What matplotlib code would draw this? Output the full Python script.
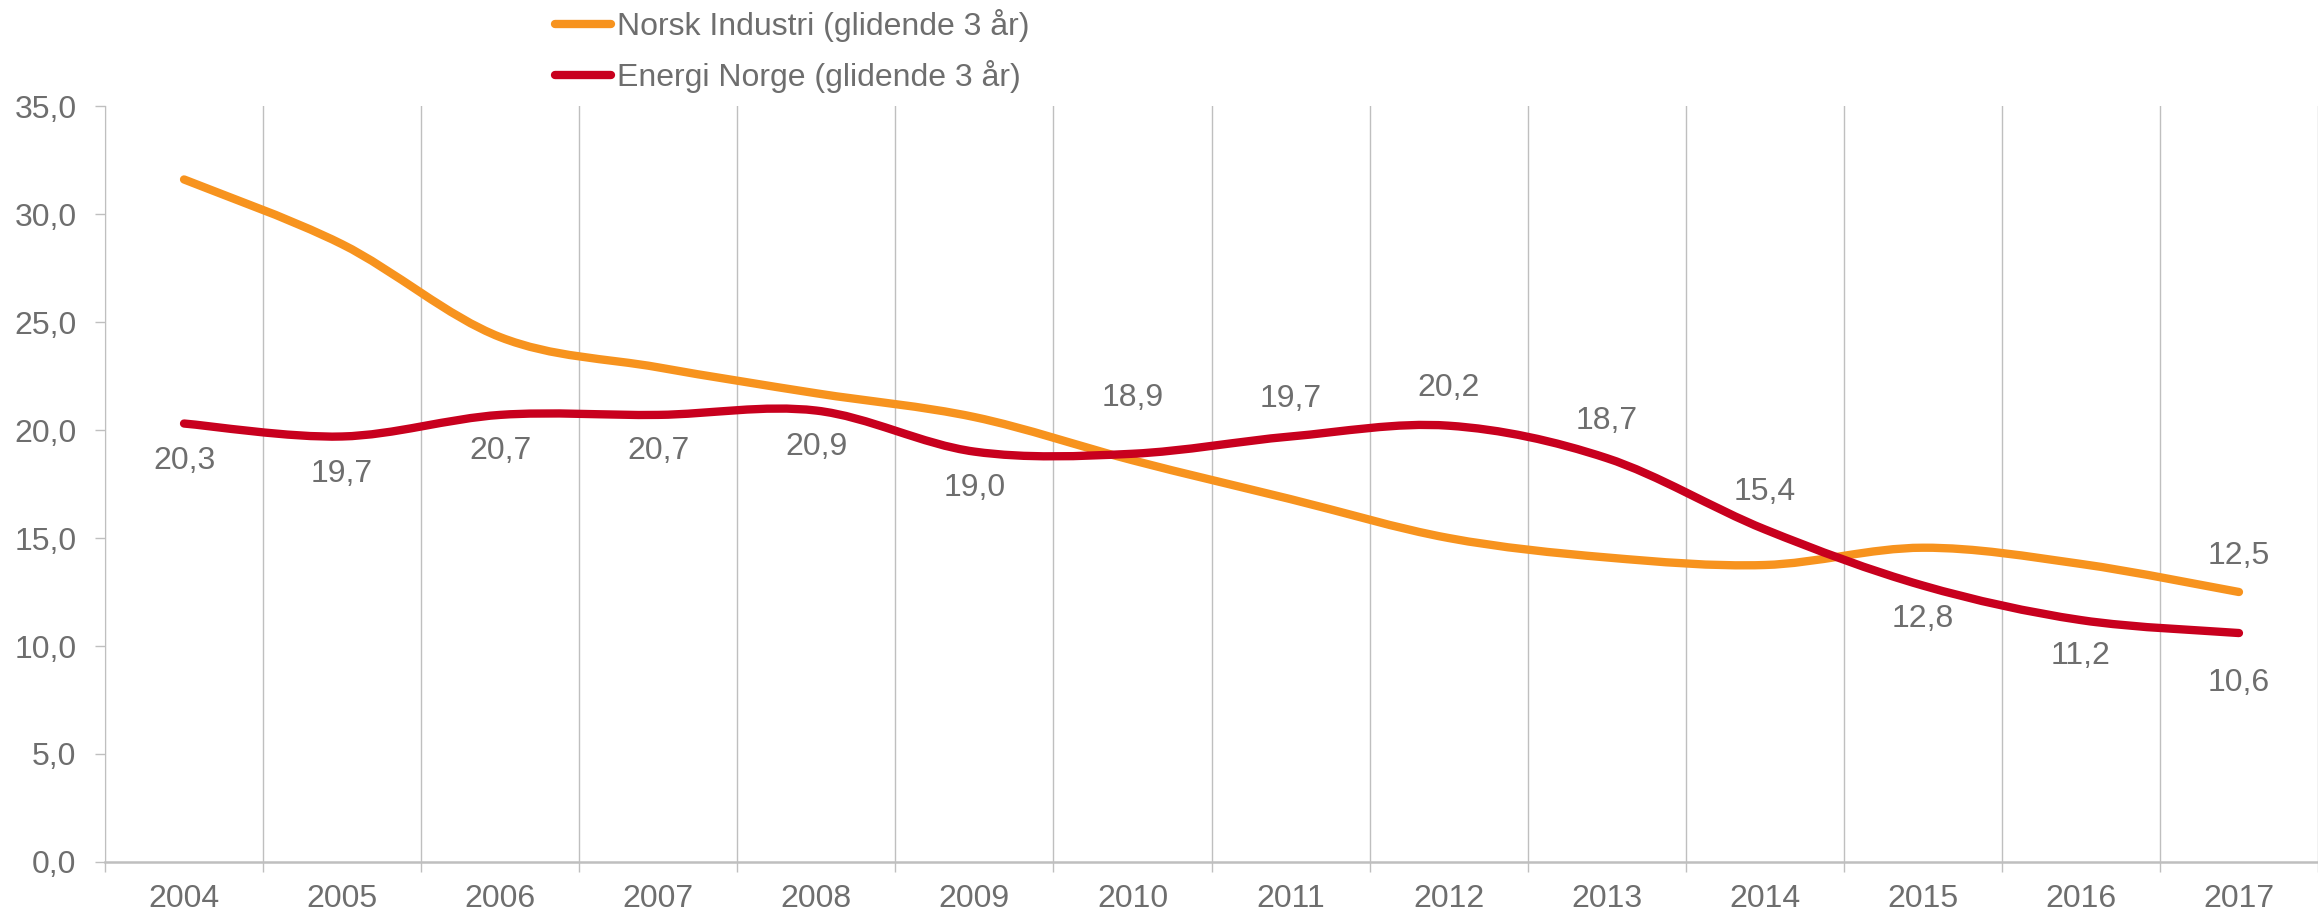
import matplotlib
matplotlib.use("Agg")
import matplotlib.pyplot as plt
from matplotlib.path import Path
from matplotlib.patches import PathPatch
from matplotlib.lines import Line2D
import numpy as np

plt.rcParams['font.family'] = ['Liberation Sans', 'DejaVu Sans']

years = ["2004", "2005", "2006", "2007", "2008", "2009", "2010",
         "2011", "2012", "2013", "2014", "2015", "2016", "2017"]
norsk_industri = [31.6, 28.6, 24.3, 22.9, 21.7, 20.6, 18.6,
                  16.8, 15.0, 14.1, 13.75, 14.55, 13.8, 12.5]
energi_norge = [20.3, 19.7, 20.7, 20.7, 20.9, 19.0, 18.9,
                19.7, 20.2, 18.7, 15.4, 12.8, 11.2, 10.6]
# vertical label offsets in points (+ above, - below)
energi_label_offset = [-27, -27, -26, -26, -26, -26, 40, 27, 27, 27, 27, -24, -26, -36]

ORANGE = "#F7931E"
RED = "#C8001E"
TEXT = "#6E6E6E"
GRID = "#BFBFBF"
FS = 23


def smooth_path(xs, ys):
    # Excel style smoothed line: cubic bezier with tangent (P[i+1]-P[i-1])/6
    pts = np.column_stack([xs, ys])
    n = len(pts)
    verts = [pts[0]]
    codes = [Path.MOVETO]
    for i in range(n - 1):
        p0 = pts[i - 1] if i > 0 else pts[i]
        p1 = pts[i]
        p2 = pts[i + 1]
        p3 = pts[i + 2] if i + 2 < n else pts[i + 1]
        c1 = p1 + (p2 - p0) / 6.0
        c2 = p2 - (p3 - p1) / 6.0
        verts += [c1, c2, p2]
        codes += [Path.CURVE4] * 3
    return Path(verts, codes)


fig = plt.figure(figsize=(23.18, 9.14), dpi=100)
ax = fig.add_axes([0.0453, 0.0569, 0.9547, 0.8271])

x = np.arange(len(years))

ax.add_patch(PathPatch(smooth_path(x, norsk_industri), fill=False,
                       edgecolor=ORANGE, lw=6, capstyle='round', zorder=3))
ax.add_patch(PathPatch(smooth_path(x, energi_norge), fill=False,
                       edgecolor=RED, lw=6, capstyle='round', zorder=4))

for xi, v, off in zip(x, energi_norge, energi_label_offset):
    ax.annotate(f"{v:.1f}".replace(".", ","), (xi, v), xytext=(0, off),
                textcoords="offset points", ha="center", va="center",
                fontsize=FS, color=TEXT)
ax.annotate(f"{norsk_industri[-1]:.1f}".replace(".", ","), (x[-1], norsk_industri[-1]),
            xytext=(0, 26), textcoords="offset points", ha="center", va="center",
            fontsize=FS, color=TEXT)

ax.set_xlim(-0.5, len(years) - 0.5)
ax.set_ylim(0, 35)
ax.set_yticks(np.arange(0, 35.1, 5))
ax.set_yticklabels([f"{t:.1f}".replace(".", ",") for t in np.arange(0, 35.1, 5)])
ax.set_xticks(x)
ax.set_xticklabels(years)
ax.set_xticks(np.arange(-0.5, len(years), 1), minor=True)

ax.tick_params(axis='x', which='major', length=0, pad=16, labelsize=FS, labelcolor=TEXT)
ax.tick_params(axis='x', which='minor', length=7.5, width=1, color=GRID)
ax.tick_params(axis='y', length=7.5, width=1, color=GRID, pad=13,
               labelsize=FS, labelcolor=TEXT)
ax.grid(axis='x', which='minor', color=GRID, lw=1)
ax.grid(axis='x', which='major', visible=False)

for s in ["top", "right"]:
    ax.spines[s].set_visible(False)
ax.spines["left"].set_color(GRID)
ax.spines["bottom"].set_color(GRID)
ax.spines["bottom"].set_linewidth(1.8)

handles = [Line2D([], [], color=ORANGE, lw=6, solid_capstyle='round'),
           Line2D([], [], color=RED, lw=6, solid_capstyle='round')]
fig.legend(handles, ["Norsk Industri (glidende 3 år)", "Energi Norge (glidende 3 år)"],
           loc="upper left", bbox_to_anchor=(0.2394, 0.990), frameon=False,
           fontsize=FS, labelcolor=TEXT, handlelength=1.75, handletextpad=0.2,
           labelspacing=0.55, borderpad=0, borderaxespad=0)

fig.savefig("out.png", dpi=100)
